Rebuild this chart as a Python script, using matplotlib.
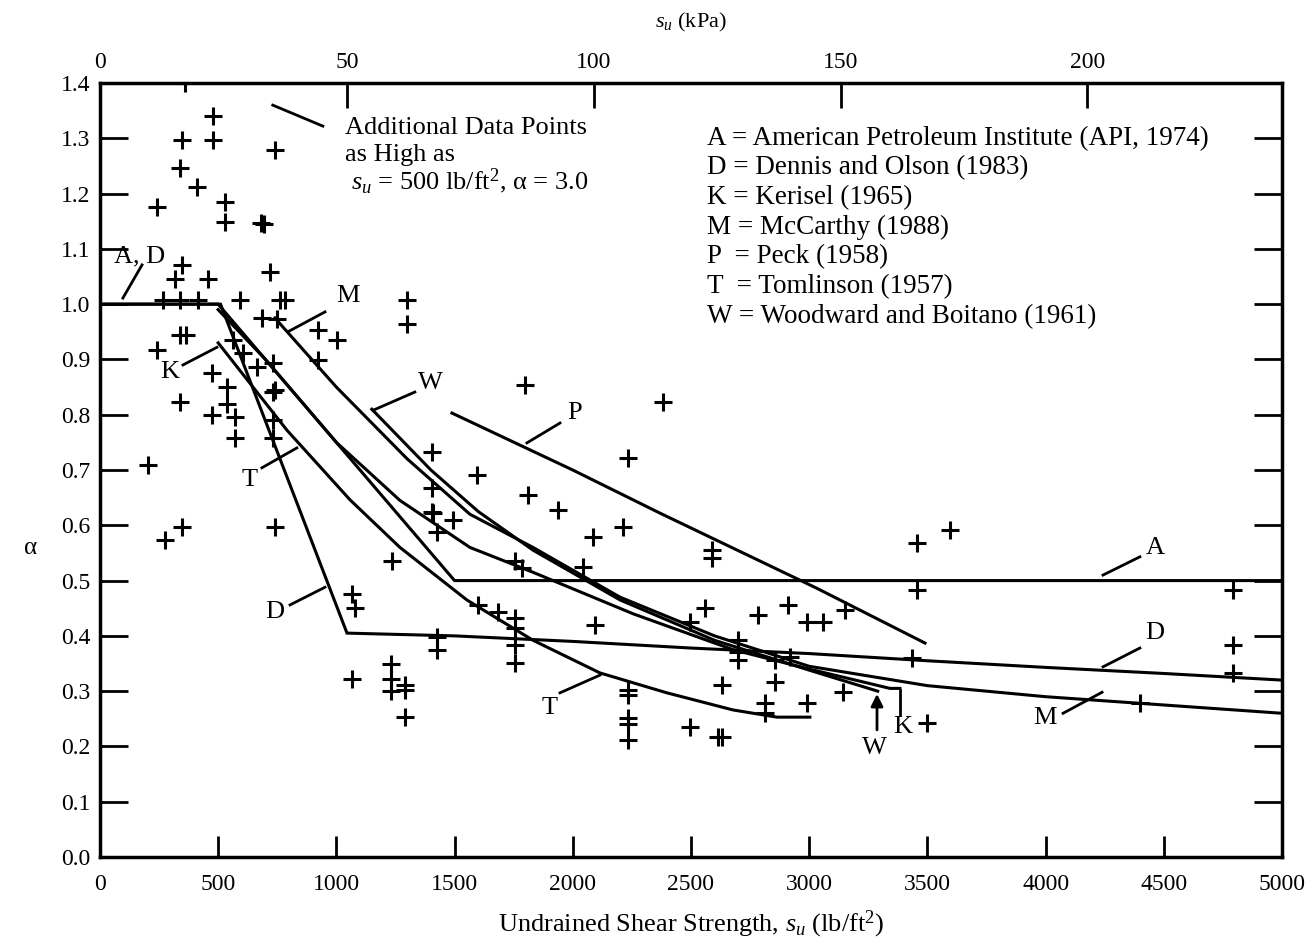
import matplotlib
matplotlib.use("Agg")
import matplotlib.pyplot as plt

plt.rcParams['font.family'] = ['Liberation Serif', 'DejaVu Serif']
plt.rcParams['mathtext.fontset'] = 'custom'
plt.rcParams['mathtext.rm'] = 'Liberation Serif'
plt.rcParams['mathtext.it'] = 'Liberation Serif:italic'

# measured data points (su in lb/ft2, alpha)
pts_x = [360, 478, 347, 478, 740, 338, 410, 529, 241, 529, 680, 692,
         347, 317, 457, 719, 267, 338, 415, 592, 762, 782, 1298, 1298,
         685, 749, 922, 1002, 338, 364, 241, 922, 732, 664, 537, 537,
         338, 474, 571, 571, 732, 732, 732, 740, 605, 474, 563,
         205, 275, 347, 740, 1235, 1066, 1079, 1066,
         1230, 1230, 1230, 1290, 1290, 1290,
         1409, 1425, 1494, 1938, 2085, 2213, 2589, 2589, 1755, 1785, 2043,
         1600, 1684, 1755, 1755, 1755, 1755, 1425, 1425, 2094,
         2234, 2234, 2234, 2234, 2234, 2496, 2614, 2630,
         2559, 2496, 2783, 2910, 2990, 3058, 3151,
         2699, 2699, 2699, 2855, 2855, 2919, 2813, 2813, 2991, 3143, 2631,
         3596, 3456, 3456, 4793, 4793, 4793, 3435, 3498, 4399,
         1798, 2382, 1404, 1594, 2234, 1811, 1404, 1404]
pts_y = [1.40, 1.34, 1.297, 1.297, 1.279, 1.246, 1.212, 1.185, 1.176, 1.149, 1.147, 1.145,
         1.07, 1.045, 1.045, 1.058, 1.007, 1.007, 1.007, 1.007, 1.007, 1.007, 1.007, 0.965,
         0.975, 0.973, 0.953, 0.935, 0.944, 0.944, 0.917, 0.899, 0.893, 0.886, 0.85, 0.819,
         0.823, 0.80, 0.795, 0.758, 0.841, 0.79, 0.758, 0.845, 0.911, 0.875, 0.935,
         0.709, 0.573, 0.597, 0.597, 0.535, 0.476, 0.45, 0.322,
         0.35, 0.322, 0.30, 0.311, 0.302, 0.253,
         0.622, 0.588, 0.609, 0.627, 0.579, 0.597, 0.555, 0.54, 0.535, 0.522, 0.525,
         0.456, 0.443, 0.432, 0.414, 0.383, 0.351, 0.398, 0.374, 0.42,
         0.302, 0.293, 0.251, 0.24, 0.212, 0.235, 0.217, 0.217,
         0.45, 0.425, 0.437, 0.456, 0.425, 0.425, 0.447,
         0.392, 0.371, 0.356, 0.356, 0.317, 0.362, 0.278, 0.26, 0.278, 0.298, 0.311,
         0.591, 0.568, 0.483, 0.483, 0.383, 0.333, 0.36, 0.242, 0.278,
         0.853, 0.823, 0.732, 0.691, 0.722, 0.655, 0.667, 0.624]

# alpha curves
A_x = [0, 500, 1500, 5000]
A_y = [1.0, 1.0, 0.5, 0.5]
D_x = [0, 510, 1045, 1500, 2000, 2500, 3000, 3500, 4000, 4500, 5000]
D_y = [1.0, 1.0, 0.405, 0.40, 0.39, 0.378, 0.368, 0.355, 0.343, 0.332, 0.32]
K_x = [500, 700, 1000, 1269, 1565, 1832, 2255, 2678, 3000, 3342, 3384]
K_y = [0.99, 0.90, 0.75, 0.645, 0.56, 0.515, 0.44, 0.375, 0.34, 0.305, 0.305]
M_x = [740, 1000, 1300, 1565, 1832, 2200, 2600, 3000, 3500, 4000, 4500, 5000]
M_y = [0.975, 0.85, 0.72, 0.62, 0.56, 0.47, 0.40, 0.345, 0.31, 0.29, 0.275, 0.26]
P_x = [1489, 2000, 2369, 3033, 3490]
P_y = [0.803, 0.70, 0.622, 0.486, 0.387]
T_x = [500, 791, 1058, 1269, 1552, 1832, 2115, 2398, 2678, 2864, 3003]
T_y = [0.93, 0.772, 0.646, 0.56, 0.465, 0.392, 0.333, 0.297, 0.266, 0.253, 0.253]
W_x = [1150, 1400, 1600, 1832, 2200, 2600, 3000, 3290]
W_y = [0.81, 0.70, 0.625, 0.555, 0.465, 0.392, 0.338, 0.30]

legend_lines = ["A = American Petroleum Institute (API, 1974)",
                "D = Dennis and Olson (1983)",
                "K = Kerisel (1965)",
                "M = McCarthy (1988)",
                "P  = Peck (1958)",
                "T  = Tomlinson (1957)",
                "W = Woodward and Boitano (1961)"]

fig = plt.figure(figsize=(13.1, 9.39), dpi=100)
ax = fig.add_axes([0.0763, 0.0873, 0.9023, 0.8243])

for cx, cy in [(A_x, A_y), (D_x, D_y), (K_x, K_y), (M_x, M_y),
               (P_x, P_y), (T_x, T_y), (W_x, W_y)]:
    ax.plot(cx, cy, color='black', lw=2.2, solid_joinstyle='miter')

ax.plot(pts_x, pts_y, linestyle='none', marker='+', markersize=13,
        markeredgewidth=2.2, color='black')

ax.set_xlim(0, 5000)
ax.set_ylim(0, 1.4)
ax.set_xticks(range(0, 5001, 500))
ax.set_yticks([i / 10 for i in range(15)])
ax.set_yticklabels([f"{i / 10:.1f}" for i in range(15)])
ax.tick_params(direction='in', length=15, width=2, labelsize=17, pad=12,
               right=True)
ax.tick_params(axis='y', length=20, pad=7)
for s in ax.spines.values():
    s.set_linewidth(2.5)

kpa = 20.885
top = ax.secondary_xaxis('top', functions=(lambda v: v / kpa, lambda v: v * kpa))
top.set_xticks([0, 50, 100, 150, 200])
top.tick_params(direction='in', length=18, width=2, labelsize=17, pad=7)
top.set_xlabel(r"$s_u$ (kPa)", fontsize=16, labelpad=18)

ax.set_xlabel(r"Undrained Shear Strength, $s_u$ (lb/ft$^2$)", fontsize=19, labelpad=10)
fig.text(0.023, 0.416, "α", fontsize=18, ha='center', va='center')

# legend block
for i, line in enumerate(legend_lines):
    ax.text(2568, 1.300 - i * 0.0537, line, fontsize=19.5, va='center', ha='left')

ax.text(1036, 1.318, "Additional Data Points", fontsize=19, va='center', ha='left')
ax.text(1036, 1.269, "as High as", fontsize=19, va='center', ha='left')
ax.text(1060, 1.222, r"$s_u$ = 500 lb/ft$^2$, α = 3.0", fontsize=19,
        va='center', ha='left')

def lbl(txt, x, y, x1, y1, x2, y2):
    ax.text(x, y, txt, fontsize=19, ha='center', va='center')
    ax.plot([x1, x2], [y1, y2], color='black', lw=2)

ax.plot([731, 943], [1.36, 1.322], color='black', lw=2)
lbl("A, D", 169, 1.087, 178, 1.071, 97, 1.011)
lbl("K", 296, 0.877, 351, 0.89, 495, 0.922)
lbl("M", 1049, 1.015, 952, 0.986, 795, 0.95)
lbl("W", 1396, 0.857, 1332, 0.841, 1155, 0.808)
lbl("P", 2009, 0.803, 1946, 0.785, 1806, 0.749)
lbl("T", 635, 0.682, 685, 0.704, 833, 0.74)
lbl("D", 740, 0.443, 804, 0.456, 952, 0.488)
lbl("T", 1904, 0.269, 1946, 0.297, 2115, 0.329)
lbl("A", 4463, 0.559, 4399, 0.543, 4243, 0.51)
lbl("D", 4463, 0.405, 4399, 0.378, 4243, 0.344)
lbl("M", 3997, 0.251, 4074, 0.26, 4239, 0.298)
lbl("K", 3397, 0.235, 3384, 0.257, 3384, 0.302)
ax.text(3278, 0.197, "W", fontsize=19, ha='center', va='center')
ax.annotate("", xy=(3287, 0.30), xytext=(3287, 0.225),
            arrowprops=dict(arrowstyle='-|>', color='black', lw=2, mutation_scale=18))

fig.savefig("out.png", dpi=100)
